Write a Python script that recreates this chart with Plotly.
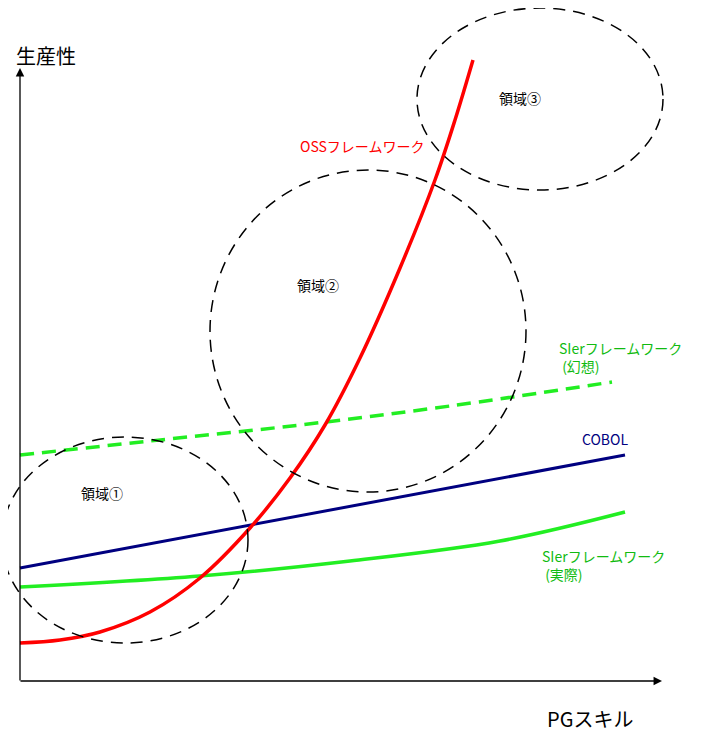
import plotly.graph_objects as go

# coordinates are in diagram units (0..709 horizontally, 0..739 vertically, top = 0)
oss_x = [20, 60, 100, 150, 200, 250, 290, 325, 360, 400, 435, 455, 473]
oss_y = [643, 640, 632, 612, 578, 528, 478, 425, 358, 268, 180, 120, 60]

dream_x = [20, 150, 300, 450, 612]
dream_y = [455, 441, 425, 406, 382]

cobol_x = [20, 625]
cobol_y = [568, 455]

real_x = [20, 200, 350, 500, 625]
real_y = [587, 576, 561, 541, 512]

regions = [  # (label, cx, cy, rx, ry)
    ("領域①", 125, 540, 123, 103),
    ("領域②", 368, 331, 158, 161),
    ("領域③", 540, 99, 123, 91),
]
region_label_pos = [(102, 493), (318, 285), (520, 98)]

FONT = "Noto Sans CJK JP"
GREEN = "#22ee22"

fig = go.Figure()
fig.add_trace(go.Scatter(x=dream_x, y=dream_y, mode="lines", line=dict(color=GREEN, width=3.5, dash="14px,8px", shape="spline")))
fig.add_trace(go.Scatter(x=cobol_x, y=cobol_y, mode="lines", line=dict(color="#000080", width=3)))
fig.add_trace(go.Scatter(x=real_x, y=real_y, mode="lines", line=dict(color=GREEN, width=3.5, shape="spline")))
fig.add_trace(go.Scatter(x=oss_x, y=oss_y, mode="lines", line=dict(color="#ff0000", width=3.5, shape="spline")))

shapes = []
for (label, cx, cy, rx, ry) in regions:
    shapes.append(dict(type="circle", x0=cx - rx, x1=cx + rx, y0=cy - ry, y1=cy + ry,
                       line=dict(color="black", width=1.5, dash="12px,8px")))

annotations = []
for (label, *_), (lx, ly) in zip(regions, region_label_pos):
    annotations.append(dict(x=lx, y=ly, text=label, showarrow=False, font=dict(size=14, color="black")))

annotations += [
    dict(x=362, y=146, text="OSSフレームワーク", showarrow=False, font=dict(size=14, color="#ff0000")),
    dict(x=557, y=357, text="SIerフレームワーク<br> (幻想)", showarrow=False, xanchor="left", align="left",
         font=dict(size=14, color="#11bb11")),
    dict(x=605, y=439, text="COBOL", showarrow=False, font=dict(size=14, color="#000080")),
    dict(x=540, y=565, text="SIerフレームワーク<br> (実際)", showarrow=False, xanchor="left", align="left",
         font=dict(size=14, color="#11bb11")),
    dict(x=46, y=55, text="生産性", showarrow=False, font=dict(size=20, color="black")),
    dict(x=590, y=718, text="PGスキル", showarrow=False, font=dict(size=20, color="black")),
    # axes arrows
    dict(x=20, y=68, ax=20, ay=682, xref="x", yref="y", axref="x", ayref="y", showarrow=True,
         arrowhead=2, arrowsize=1.3, arrowwidth=1.3, arrowcolor="black", text=""),
    dict(x=662, y=681, ax=19, ay=681, xref="x", yref="y", axref="x", ayref="y", showarrow=True,
         arrowhead=2, arrowsize=1.3, arrowwidth=1.3, arrowcolor="black", text=""),
]

fig.update_layout(
    width=709, height=739, margin=dict(l=0, r=0, t=0, b=0),
    paper_bgcolor="white", plot_bgcolor="white", showlegend=False,
    font=dict(family=FONT),
    xaxis=dict(range=[8, 717], visible=False),
    yaxis=dict(range=[747, 8], visible=False),
    shapes=shapes, annotations=annotations,
)

fig.write_html("out.html")
